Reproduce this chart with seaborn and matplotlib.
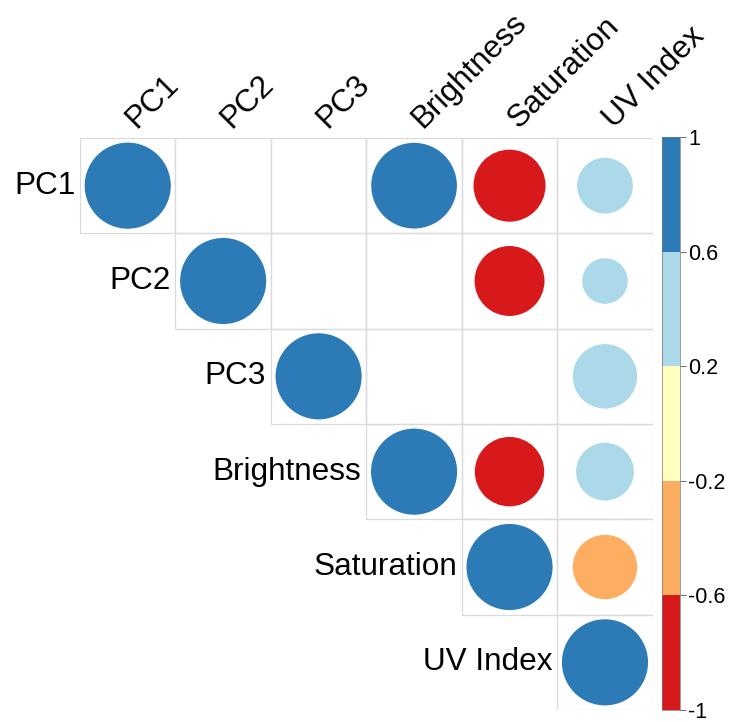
import numpy as np
import pandas as pd
import matplotlib
matplotlib.use("Agg")
import matplotlib.pyplot as plt
from matplotlib.colors import ListedColormap, BoundaryNorm
from matplotlib.cm import ScalarMappable
from matplotlib.patches import Rectangle
import seaborn as sns

# ---- data ----
variables = ["PC1", "PC2", "PC3", "Brightness", "Saturation", "UV Index"]
# upper-triangle correlations (row, col, r); blank cells are omitted (not significant)
row_var = ["PC1", "PC1", "PC1", "PC1", "PC2", "PC2", "PC2", "PC3", "PC3",
           "Brightness", "Brightness", "Brightness", "Saturation", "Saturation", "UV Index"]
col_var = ["PC1", "Brightness", "Saturation", "UV Index", "PC2", "Saturation", "UV Index",
           "PC3", "UV Index", "Brightness", "Saturation", "UV Index", "Saturation", "UV Index",
           "UV Index"]
r_value = [1.00, 0.99, -0.70, 0.42, 1.00, -0.66, 0.28, 1.00, 0.56,
           1.00, -0.65, 0.45, 1.00, -0.56, 1.00]

bounds = [-1, -0.6, -0.2, 0.2, 0.6, 1]
bin_colors = ["#D7191C", "#FDAE61", "#FFFFBF", "#ABD9E9", "#2C7BB6"]
tick_labels = ["-1", "-0.6", "-0.2", "0.2", "0.6", "1"]

# ---- figure ----
sns.set_theme(style="white")
plt.rcParams["font.family"] = ["Liberation Sans", "DejaVu Sans"]

W, H = 731, 722
fig = plt.figure(figsize=(W / 100, H / 100), dpi=100)
ax = fig.add_axes([80 / W, 1 - 710 / H, 572.7 / W, 572 / H])

n = len(variables)
idx = {v: i for i, v in enumerate(variables)}
df = pd.DataFrame({"row": row_var, "col": col_var, "r": r_value})
df["x"] = df["col"].map(idx) + 0.5
df["y"] = df["row"].map(idx) + 0.5
df["absr"] = df["r"].abs()
norm = BoundaryNorm(bounds, len(bin_colors))
df["bin"] = [int(norm(v)) if v < 1 else len(bin_colors) - 1 for v in df["r"]]
df["bin"] = df["bin"].clip(0, len(bin_colors) - 1)
palette = {i: c for i, c in enumerate(bin_colors)}

# grid of upper triangle
for i in range(n):
    for j in range(i, n):
        ax.add_patch(Rectangle((j, i), 1, 1, facecolor="none",
                               edgecolor="#DADADA", lw=0.9, zorder=1))

cell_pt = 572.7 / n * 0.72
max_diam_pt = cell_pt * 0.902
sns.scatterplot(data=df, x="x", y="y", hue="bin", palette=palette,
                size="absr", sizes=(0, max_diam_pt ** 2), size_norm=(0, 1),
                linewidth=0, edgecolor="none", legend=False, ax=ax, zorder=3)

ax.set_xlim(0, n)
ax.set_ylim(n, 0)
ax.set_aspect("auto")
ax.axis("off")

fs = 22.7
for i, v in enumerate(variables):
    ax.text(i - 0.05, i + 0.5, v, ha="right", va="center", fontsize=fs, color="black")
    ax.text(i + 0.59, -0.09, v, ha="left", va="baseline", rotation=45,
            rotation_mode="anchor", fontsize=fs, color="black")

# colorbar
cax = fig.add_axes([662 / W, 1 - 710 / H, 18 / W, 573 / H])
sm = ScalarMappable(norm=norm, cmap=ListedColormap(bin_colors))
cb = fig.colorbar(sm, cax=cax, ticks=bounds, spacing="proportional")
cb.ax.set_yticklabels(tick_labels)
cb.ax.tick_params(labelsize=15.5, length=4, width=0.6, color="#555555", pad=2,
                  right=True, labelcolor="black")
cb.outline.set_linewidth(0.5)
cb.outline.set_edgecolor("#777777")

fig.savefig("out.png", dpi=100, facecolor="white")
